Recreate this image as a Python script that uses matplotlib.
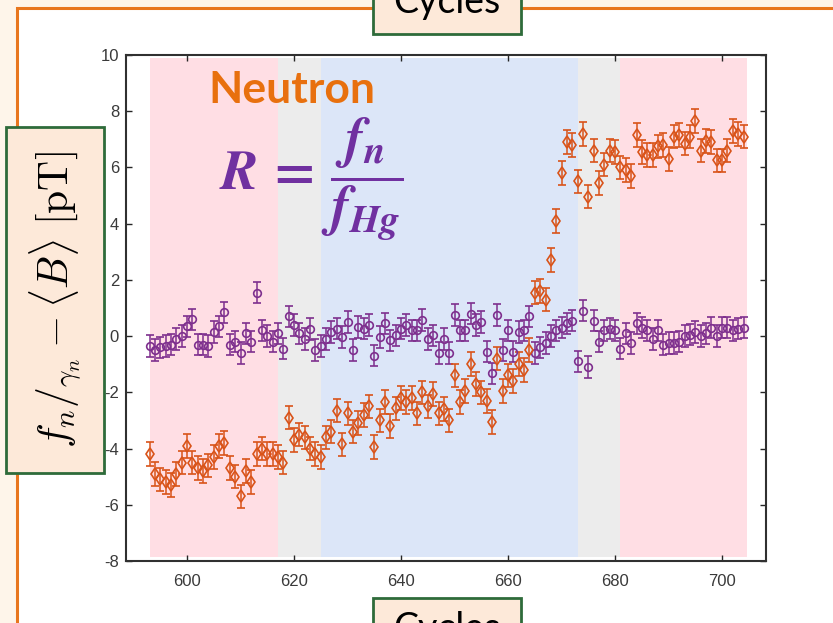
import matplotlib
matplotlib.use("Agg")
import matplotlib.pyplot as plt
from matplotlib.patches import Rectangle

plt.rcParams['axes.unicode_minus'] = False
plt.rcParams['mathtext.fontset'] = 'custom'
plt.rcParams['mathtext.it'] = 'STIXGeneral:italic:bold'
plt.rcParams['mathtext.rm'] = 'STIXGeneral:bold'

# Data
cycles = list(range(593, 705))
hg_ratio = [
    -0.35, -0.5, -0.4, -0.35, -0.3, -0.1, 0.0, 0.35, 0.6, -0.3,
    -0.3, -0.35, 0.15, 0.35, 0.85, -0.3, -0.2, -0.6, 0.1, -0.2,
    1.55, 0.2, 0.0, -0.2, 0.1, -0.45, 0.7, 0.4, 0.1, -0.1,
    0.25, -0.5, -0.35, -0.1, 0.15, 0.27, -0.03, 0.5, -0.5, 0.33,
    0.27, 0.4, -0.7, -0.03, 0.45, -0.15, 0.03, 0.27, 0.4, 0.2,
    0.2, 0.57, -0.1, 0.03, -0.6, -0.1, -0.6, 0.75, 0.2, 0.2,
    0.8, 0.4, 0.5, -0.55, -1.33, 0.75, -0.5, 0.2, -0.55, 0.15,
    0.2, 0.7, -0.6, -0.4, -0.25, 0.0, 0.2, 0.3, 0.45, 0.55,
    -0.9, 0.9, -1.1, 0.55, -0.2, 0.2, 0.27, 0.2, -0.45, 0.1,
    -0.25, 0.45, 0.3, 0.2, -0.1, 0.2, -0.3, -0.25, -0.25, -0.2,
    0.0, 0.05, 0.15, 0.0, 0.1, 0.3, 0.0, 0.3, 0.3, 0.2,
    0.27, 0.3]
neutron = [
    -4.2, -4.9, -5.1, -5.2, -5.3, -4.9, -4.5, -3.9, -4.5, -4.7,
    -4.8, -4.6, -4.3, -3.9, -3.8, -4.7, -5.0, -5.7, -4.8, -5.2,
    -4.2, -4.0, -4.2, -4.2, -4.3, -4.5, -2.9, -3.7, -3.5, -3.6,
    -4.0, -4.2, -4.3, -3.6, -3.4, -2.65, -3.85, -2.75, -3.4, -3.1,
    -2.8, -2.5, -3.94, -3.0, -2.35, -3.2, -2.57, -2.2, -2.35, -2.2,
    -2.75, -2.0, -2.5, -2.05, -2.75, -2.6, -3.0, -1.4, -2.35, -1.95,
    -1.0, -1.7, -2.0, -2.3, -3.05, -0.8, -1.95, -1.4, -1.6, -1.0,
    -1.2, -0.5, 1.55, 1.6, 1.3, 2.7, 4.1, 5.8, 6.9, 6.8,
    5.5, 7.2, 4.96, 6.6, 5.45, 6.1, 6.6, 6.55, 6.0, 5.9,
    5.7, 7.15, 6.55, 6.45, 6.45, 6.75, 6.8, 6.3, 7.1, 7.15,
    6.85, 7.1, 7.65, 6.6, 6.95, 6.9, 6.25, 6.25, 6.6, 7.3,
    7.2, 7.1]
hg_err = 0.38
neutron_err = 0.42

# background bands (cycle ranges)
band_edges = [593, 617, 625, 673, 681, 704.7]
band_colors = ['#ffdee4', '#ececec', '#dce6f8', '#ececec', '#ffdee4']

ORANGE = '#d95319'
PURPLE = '#7e2f8e'

fig = plt.figure(figsize=(8.33, 6.23), dpi=100)
fig.patch.set_facecolor('#fef5ea')
W, H = 833.0, 623.0

def px_rect(x0, y0, x1, y1, **kw):
    # rectangle in pixel coords, y from top
    r = Rectangle((x0 / W, 1 - y1 / H), (x1 - x0) / W, (y1 - y0) / H,
                  transform=fig.transFigure, **kw)
    fig.patches.append(r)

# slide panel
px_rect(17, 8, 900, 700, facecolor='white', edgecolor='#e8761e', lw=2.2, zorder=-5)

ax = fig.add_axes([126 / W, 1 - 561 / H, 640 / W, 506 / H])
ax.set_zorder(1)
ax.patch.set_facecolor('white')
for i in range(len(band_colors)):
    ax.fill_between([band_edges[i], band_edges[i + 1]], -7.85, 9.9,
                    color=band_colors[i], lw=0, zorder=0)

ax.errorbar(cycles, hg_ratio, yerr=hg_err, fmt='o', color=PURPLE, mfc='none',
            ms=5.5, mew=1.2, elinewidth=1.1, capsize=3, capthick=1.1, zorder=3)
ax.errorbar(cycles, neutron, yerr=neutron_err, fmt='d', color=ORANGE, mfc='none',
            ms=6.5, mew=1.2, elinewidth=1.1, capsize=3, capthick=1.1, zorder=3)

ax.set_xlim(588.6, 708.2)
ax.set_ylim(-8, 10)
ax.set_xticks(range(600, 701, 20))
ax.set_yticks(range(-8, 11, 2))
ax.tick_params(direction='in', length=4, width=1.0, top=True, right=True,
               labelsize=12, labelcolor='#3a3a3a', color='#262626')
ax.tick_params(axis='x', pad=9)
ax.tick_params(axis='y', pad=5)
for lbl in ax.get_xticklabels() + ax.get_yticklabels():
    lbl.set_family('Liberation Sans')
for s in ax.spines.values():
    s.set_linewidth(1.5)
    s.set_color('#303030')

# annotations inside the plot
ax.text(0.128, 0.905, 'Neutron', transform=ax.transAxes, fontsize=32,
        family='Lato', weight='bold', color='#e8700e', va='baseline')
ax.text(0.146, 0.755, r'$R\,=\,\dfrac{f_n}{f_{Hg}}$', transform=ax.transAxes,
        fontsize=40, color='#7030a0', va='center')

# label boxes
px_rect(373, -10, 521, 34, facecolor='#fde9d9', edgecolor='#2e6b3a', lw=2, zorder=5)
fig.text(447 / W, 1 - 13 / H, 'Cycles', ha='center', va='baseline',
         fontsize=27, family='Lato', color='black', zorder=6)
px_rect(373, 598, 521, 660, facecolor='#fde9d9', edgecolor='#2e6b3a', lw=2, zorder=5)
fig.text(447 / W, 1 - 640 / H, 'Cycles', ha='center', va='baseline',
         fontsize=27, family='Lato', color='black', zorder=6)
px_rect(6, 127, 104, 473, facecolor='#fde9d9', edgecolor='#2e6b3a', lw=2, zorder=5)
fig.text(56 / W, 1 - 300 / H, r'$f_n/_{\gamma_n}-\langle B\rangle\ [\mathrm{pT}]$',
         rotation=90, ha='center', va='center', fontsize=30,
         math_fontfamily='cm', color='black', zorder=6)

fig.savefig('out.png', dpi=100, facecolor=fig.get_facecolor())
